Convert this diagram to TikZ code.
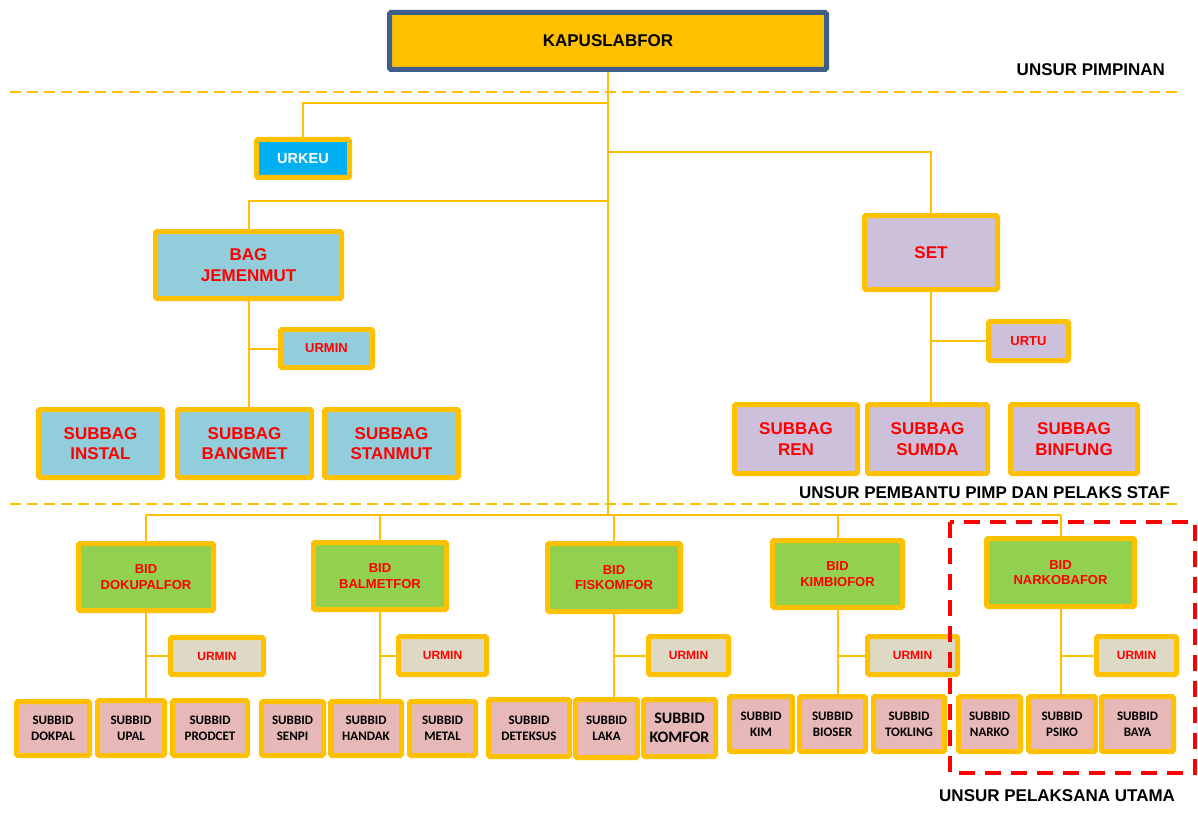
\documentclass[tikz,border=0pt]{standalone}
\usepackage{fontspec}
\setmainfont{Liberation Sans}
\newfontfamily\calfont{Carlito}
\usetikzlibrary{calc}
\definecolor{gold}{HTML}{FFC000}
\definecolor{kblue}{HTML}{3E5F8A}
\definecolor{sky}{HTML}{00B0F0}
\definecolor{lblue}{HTML}{92CDDC}
\definecolor{lav}{HTML}{CCC0DA}
\definecolor{lgreen}{HTML}{92D050}
\definecolor{beige}{HTML}{DDD9C4}
\definecolor{pinkish}{HTML}{E6B8B7}
\definecolor{tred}{HTML}{FF0000}
\pgfdeclarelayer{bg}\pgfsetlayers{bg,main}
\tikzset{
  box/.style={draw=gold, line width=5pt, rounded corners=1.5pt, inner sep=0pt, outer sep=0pt,
    align=center, text=tred, font=\bfseries\fontsize{17}{20.5}\selectfont},
  kbox/.style={box, draw=kblue, fill=gold, text=black},
  small/.style={font=\bfseries\fontsize{13}{15.5}\selectfont},
  urm/.style={box, fill=beige, font=\bfseries\fontsize{12}{14}\selectfont},
  bidbox/.style={box, fill=lgreen, font=\bfseries\fontsize{13}{15.5}\selectfont},
  subbid/.style={box, fill=pinkish, text=black, font=\calfont\bfseries\fontsize{13}{16}\selectfont},
  conn/.style={draw=gold, line width=2pt},
  hdash/.style={draw=gold, line width=2pt, dash pattern=on 11pt off 6pt},
  rdash/.style={draw=tred, line width=4pt, dash pattern=on 16pt off 10pt},
  lbl/.style={inner sep=0pt, outer sep=0pt, anchor=east, text=black, font=\bfseries\fontsize{17}{20}\selectfont}
}
\newcommand\bx[7]{\node[#6, minimum width={#4-#2-5}, minimum height={#5-#3-5}] (#1) at ({(#2+#4)/2},{(#3+#5)/2}) {#7};}
\begin{document}
\begin{tikzpicture}[x=1pt,y=-1pt]
\useasboundingbox (0,0) rectangle (1198,813);
% top
\bx{kapus}{387}{10}{829}{72}{kbox}{KAPUSLABFOR}
\bx{urkeu}{254}{137}{352}{180}{box,fill=sky,text=white,font=\bfseries\fontsize{14.5}{17}\selectfont}{URKEU}
% BAG
\bx{bag}{153}{229}{344}{301}{box,fill=lblue}{BAG\\JEMENMUT}
\bx{urmin0}{278}{327}{375}{370}{box,fill=lblue,small}{URMIN}
\bx{instal}{36}{407}{165}{480}{box,fill=lblue}{SUBBAG\\INSTAL}
\bx{bangmet}{175}{407}{314}{480}{box,fill=lblue}{SUBBAG\\BANGMET}
\bx{stanmut}{322}{407}{461}{480}{box,fill=lblue}{SUBBAG\\STANMUT}
% SET
\bx{set}{862}{213}{1000}{292}{box,fill=lav}{SET}
\bx{urtu}{986}{319}{1071}{363}{box,fill=lav,small}{URTU}
\bx{ren}{732}{402}{860}{476}{box,fill=lav}{SUBBAG\\REN}
\bx{sumda}{865}{402}{990}{476}{box,fill=lav}{SUBBAG\\SUMDA}
\bx{binfung}{1008}{402}{1140}{476}{box,fill=lav}{SUBBAG\\BINFUNG}
% BIDs
\bx{dok}{76}{541}{216}{613}{bidbox}{BID\\DOKUPALFOR}
\bx{bal}{311}{540}{449}{612}{bidbox}{BID\\BALMETFOR}
\bx{fis}{545}{541}{683}{614}{bidbox}{BID\\FISKOMFOR}
\bx{kim}{770}{538}{905}{610}{bidbox}{BID\\KIMBIOFOR}
\bx{nar}{984}{536}{1137}{609}{bidbox}{BID\\NARKOBAFOR}
% URMINs
\bx{u1}{168}{635}{266}{677}{urm}{URMIN}
\bx{u2}{396}{634}{489}{677}{urm}{URMIN}
\bx{u3}{646}{634}{731}{677}{urm}{URMIN}
\bx{u4}{865}{634}{960}{677}{urm}{URMIN}
\bx{u5}{1094}{634}{1179}{677}{urm}{URMIN}
% SUBBIDs
\bx{dokpal}{14}{699}{92}{758}{subbid}{SUBBID\\DOKPAL}
\bx{upal}{95}{698}{167}{758}{subbid}{SUBBID\\UPAL}
\bx{prodcet}{170}{698}{250}{758}{subbid}{SUBBID\\PRODCET}
\bx{senpi}{259}{699}{326}{758}{subbid}{SUBBID\\SENPI}
\bx{handak}{328}{699}{404}{758}{subbid}{SUBBID\\HANDAK}
\bx{metal}{407}{699}{478}{758}{subbid}{SUBBID\\METAL}
\bx{deteksus}{486}{697}{572}{759}{subbid}{SUBBID\\DETEKSUS}
\bx{laka}{573}{697}{640}{760}{subbid}{SUBBID\\LAKA}
\bx{komfor}{641}{697}{718}{759}{subbid,font=\calfont\bfseries\fontsize{16}{19}\selectfont}{SUBBID\\KOMFOR}
\bx{skim}{727}{694}{795}{754}{subbid}{SUBBID\\KIM}
\bx{bioser}{797}{694}{868}{754}{subbid}{SUBBID\\BIOSER}
\bx{tokling}{871}{694}{947}{754}{subbid}{SUBBID\\TOKLING}
\bx{snarko}{956}{694}{1023}{754}{subbid}{SUBBID\\NARKO}
\bx{psiko}{1026}{694}{1098}{754}{subbid}{SUBBID\\PSIKO}
\bx{baya}{1099}{694}{1176}{754}{subbid}{SUBBID\\BAYA}
% labels
\node[lbl] (l1) at (1165,70) {UNSUR PIMPINAN};
\node[lbl] (l2) at (1170,493) {UNSUR PEMBANTU PIMP DAN PELAKS STAF};
\node[lbl] (l3) at (1175,796) {UNSUR PELAKSANA UTAMA};
% coordinates
\coordinate (j1) at (608,103);
\coordinate (j2) at (608,152);
\coordinate (j3) at (608,201);
\coordinate (bus) at (608,515);
\coordinate (d1a) at (10,92); \coordinate (d1b) at (1178,92);
\coordinate (d2a) at (10,504); \coordinate (d2b) at (1178,504);
\begin{pgfonlayer}{bg}
\draw[hdash] (d1a) -- (d1b);
\draw[hdash] (d2a) -- (d2b);
\draw[conn] (kapus.south) -- (kapus.south |- bus);
\draw[conn] (j1) -| (urkeu.north);
\draw[conn] (j2) -| (set.north);
\draw[conn] (j3) -| (bag.north);
\draw[conn] (bag.south) -- (bag.south |- bangmet.north);
\draw[conn] (bag.south |- urmin0.west) -- (urmin0.west);
\draw[conn] (set.south) -- (set.south |- sumda.north);
\draw[conn] (set.south |- urtu.west) -- (urtu.west);
\draw[conn] (dok.north |- bus) -- (nar.north |- bus);
\foreach \b/\u/\s in {dok/u1/upal, bal/u2/handak, fis/u3/laka, kim/u4/bioser, nar/u5/psiko}{
  \draw[conn] (\b.north) -- (\b.north |- bus);
  \draw[conn] (\b.south) -- (\b.south |- \s.north);
  \draw[conn] (\b.south |- \u.west) -- (\u.west);
}
\end{pgfonlayer}
\draw[rdash] (950,522) rectangle (1195,773);
\end{tikzpicture}
\end{document}
